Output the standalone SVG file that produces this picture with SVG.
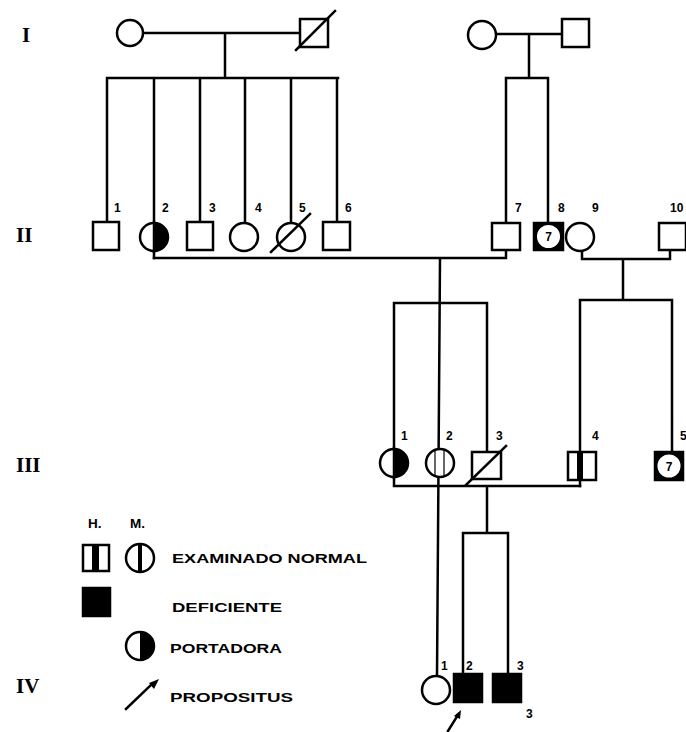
<svg xmlns="http://www.w3.org/2000/svg" width="686" height="732" viewBox="0 0 686 732">
<style>
.ln{stroke:#000;stroke-width:2.5;fill:none;stroke-linecap:square}
.sym{stroke:#000;stroke-width:2.5;fill:#fff}
.blk{fill:#000;stroke:#000;stroke-width:2.5}
.num{font-family:"Liberation Sans",Arial,sans-serif;font-weight:bold;font-size:12px;fill:#000}
.gen{font-family:"Liberation Serif","Times New Roman",serif;font-weight:bold;font-size:21px;fill:#000}
.leg{font-family:"Liberation Sans",Arial,sans-serif;font-weight:bold;font-size:13.5px;fill:#000}
</style>
<rect width="686" height="732" fill="#fff"/>
<g id="connectors">
<path class="ln" d="M143,33 H300 M225,33 V78 M107,78 H338 M107,78 V222 M154,78 V258 M200,78 V222 M245,78 V223 M291,78 V223 M337,78 V222"/>
<path class="ln" d="M497,34 H562 M529,34 V78 M506,78 H548 M506,78 V223 M548,78 V223"/>
<path class="ln" d="M154,258 H506 V250 M582,250 V259 H670 V250 M623,259 V300 M580,300 H672 M580,300 V486 M672,300 V452"/>
<path class="ln" d="M440,259 L437,676 M394,303 H487 M394,303 V486 H580 M487,303 V452 M487,486 V533 M463,533 H508 M463,533 V673 M508,533 V673"/>
</g>
<g id="gen-labels">
<text class="gen" x="22" y="42">I</text>
<text class="gen" x="16" y="242">II</text>
<text class="gen" x="16" y="472">III</text>
<text class="gen" x="16" y="693">IV</text>
</g>
<g id="I-1"><circle class="sym" cx="130" cy="33" r="13"/></g>
<g id="I-2"><rect class="sym" x="300" y="19" width="28" height="28"/><line class="ln" x1="296" y1="50" x2="335" y2="11"/></g>
<g id="I-3"><circle class="sym" cx="482" cy="35" r="14"/></g>
<g id="I-4"><rect class="sym" x="562" y="19" width="27" height="28"/></g>
<g id="II-1"><rect class="sym" x="93" y="222" width="26" height="28"/><text class="num" x="114" y="212">1</text></g>
<g id="II-2"><circle class="sym" cx="154" cy="237" r="14"/><path d="M154,223 A14,14 0 0 1 154,251 Z" fill="#000"/><line class="ln" x1="154" y1="222" x2="154" y2="252"/><text class="num" x="162" y="212">2</text></g>
<g id="II-3"><rect class="sym" x="187" y="222" width="26" height="28"/><text class="num" x="209" y="212">3</text></g>
<g id="II-4"><circle class="sym" cx="244" cy="237" r="14"/><text class="num" x="255" y="212">4</text></g>
<g id="II-5"><circle class="sym" cx="291" cy="237" r="14"/><line class="ln" x1="271" y1="252" x2="310" y2="214"/><text class="num" x="299" y="212">5</text></g>
<g id="II-6"><rect class="sym" x="323" y="222" width="27" height="28"/><text class="num" x="345" y="212">6</text></g>
<g id="II-7"><rect class="sym" x="492" y="223" width="28" height="27"/><text class="num" x="515" y="212">7</text></g>
<g id="II-8"><rect class="blk" x="534" y="223" width="29" height="27"/><circle class="sym" cx="548.5" cy="236.5" r="12.8"/><text class="num" x="548.5" y="241" text-anchor="middle">7</text><text class="num" x="558" y="212">8</text></g>
<g id="II-9"><circle class="sym" cx="580" cy="237" r="14"/><text class="num" x="592" y="212">9</text></g>
<g id="II-10"><rect class="sym" x="659" y="223" width="27" height="27"/><text class="num" x="670" y="212">10</text></g>
<g id="III-1"><circle class="sym" cx="394" cy="463" r="14"/><path d="M394,449 A14,14 0 0 1 394,477 Z" fill="#000"/><line class="ln" x1="394" y1="448" x2="394" y2="478"/><text class="num" x="401" y="440">1</text></g>
<g id="III-2"><circle class="sym" cx="440" cy="463" r="14"/><line x1="435" y1="450" x2="435" y2="476" stroke="#000" stroke-width="1.2"/><line x1="444" y1="450" x2="444" y2="476" stroke="#000" stroke-width="1.2"/><text class="num" x="446" y="440">2</text></g>
<g id="III-3"><rect class="sym" x="472" y="452" width="29" height="27"/><line class="ln" x1="466" y1="485" x2="506" y2="446"/><text class="num" x="496" y="440">3</text></g>
<g id="III-4"><rect class="sym" x="568" y="452" width="28" height="28"/><rect x="577" y="452" width="6" height="28" fill="#000"/><text class="num" x="592" y="440">4</text></g>
<g id="III-5"><rect class="blk" x="655" y="452" width="28" height="28"/><circle class="sym" cx="669" cy="466" r="12.8"/><text class="num" x="669" y="470.5" text-anchor="middle">7</text><text class="num" x="680" y="440">5</text></g>
<g id="IV-1"><circle class="sym" cx="436" cy="690" r="14"/><text class="num" x="441" y="670">1</text></g>
<g id="IV-2"><rect class="blk" x="454" y="674" width="28" height="28"/><text class="num" x="466" y="670">2</text></g>
<g id="IV-3"><rect class="blk" x="493" y="674" width="28" height="28"/><text class="num" x="517" y="670">3</text><text class="num" x="526" y="718">3</text></g>
<g id="propositus-arrow"><line class="ln" x1="448" y1="731" x2="458" y2="715"/><path d="M461,710 L454,716 L460,719 Z" fill="#000"/></g>
<g id="legend">
<text class="leg" x="88" y="528" font-size="11">H.</text>
<text class="leg" x="130" y="528" font-size="11">M.</text>
<rect class="sym" x="83" y="545" width="26" height="26"/><rect x="92" y="545" width="7" height="26" fill="#000"/>
<circle class="sym" cx="140" cy="558" r="14"/><rect x="138" y="545" width="4" height="27" fill="#000"/>
<text class="leg" x="172" y="563" textLength="195" lengthAdjust="spacingAndGlyphs">EXAMINADO NORMAL</text>
<rect class="blk" x="83" y="588" width="27" height="28"/>
<text class="leg" x="172" y="612" textLength="110" lengthAdjust="spacingAndGlyphs">DEFICIENTE</text>
<circle class="sym" cx="140" cy="646" r="14"/><path d="M140,632 A14,14 0 0 1 140,660 Z" fill="#000"/>
<text class="leg" x="170" y="653" textLength="112" lengthAdjust="spacingAndGlyphs">PORTADORA</text>
<line class="ln" x1="126" y1="709" x2="152" y2="684"/><path d="M159,679 L149,683 L154,689 Z" fill="#000"/>
<text class="leg" x="170" y="702" textLength="123" lengthAdjust="spacingAndGlyphs">PROPOSITUS</text>
</g>
</svg>
